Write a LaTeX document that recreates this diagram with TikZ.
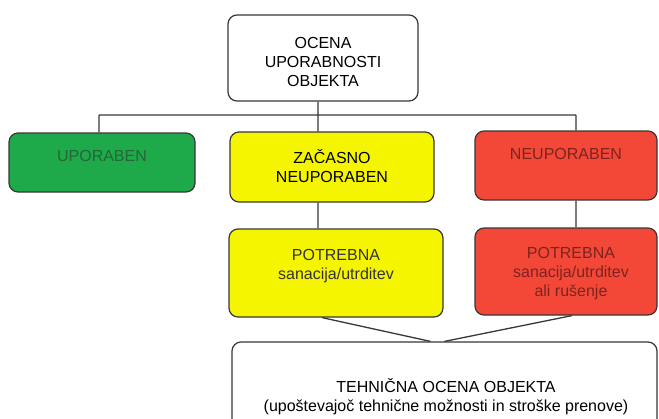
\documentclass[tikz,border=0pt]{standalone}
\usepackage{fontspec}
\setmainfont{Liberation Sans}
\definecolor{crta}{RGB}{55,55,55}
\definecolor{zel}{RGB}{30,170,75}
\definecolor{zeltxt}{RGB}{40,100,55}
\definecolor{rum}{RGB}{245,245,0}
\definecolor{rde}{RGB}{243,72,56}
\definecolor{rdetxt}{RGB}{125,35,30}
\begin{document}
\begin{tikzpicture}[x=1pt,y=-1pt,
                        line width=1.2pt,
        b/.style={rectangle, rounded corners=9pt, draw=crta,
                        inner sep=0pt},
        t/.style={align=center, inner sep=0pt,
                        font=\fontsize{16}{19}\selectfont}]
    \useasboundingbox (0,0) rectangle (659,418);
    % okvirji
    \node[b, fill=white, minimum width=190pt, minimum height=86pt] (ocena) at (323,58) {};
    \node[b, fill=zel, minimum width=186pt, minimum height=59pt] (upo) at (102,162.5) {};
    \node[b, fill=rum, minimum width=204pt, minimum height=70pt] (zac) at (332,167) {};
    \node[b, fill=rde, minimum width=182pt, minimum height=69pt] (neu) at (566,165.5) {};
    \node[b, fill=rum, minimum width=214pt, minimum height=88pt] (pot1) at (336,273) {};
    \node[b, fill=rde, minimum width=182pt, minimum height=87pt] (pot2) at (566,271.5) {};
    \node[b, fill=white, minimum width=425pt, minimum height=98pt] (teh) at (444.5,391) {};
    % besedila
    \node[t] (ocenat) at (323,62) {OCENA\\UPORABNOSTI\\OBJEKTA};
    \node[t, text=zeltxt] (upot) at (102,156) {UPORABEN};
    \node[t] (zact) at (332,166) {ZAČASNO\\NEUPORABEN};
    \node[t, text=rdetxt] (neut) at (566,154) {NEUPORABEN};
    \node[t, text=black!80] (pot1t) at (336,266) {POTREBNA\\sanacija/utrditev};
    \node[t, text=rdetxt] (pot2t) at (571,274) {POTREBNA\\sanacija/utrditev\\ali rušenje};
    \node[t] (teht) at (446,397) {TEHNIČNA OCENA OBJEKTA\\(upoštevajoč tehnične možnosti in stroške prenove)};
    % povezave
    \coordinate (lft) at (99,115);
    \coordinate (mid) at (318,115);
    \coordinate (rgt) at (576,115);
    \draw[crta, line width=1.3pt]
        (lft) -- (rgt)
        (lft) -- (upo.north -| lft)
        (ocena.south -| mid) -- (zac.north -| mid)
        (rgt) -- (neu.north -| rgt)
        (zac.south -| mid) -- (pot1.north -| mid)
        (neu.south -| rgt) -- (pot2.north -| rgt)
        ([xshift=-14pt]pot1.south) -- ([xshift=-14pt]teh.north)
        ([xshift=6pt]pot2.south) -- ([xshift=0pt]teh.north);
\end{tikzpicture}
\end{document}
